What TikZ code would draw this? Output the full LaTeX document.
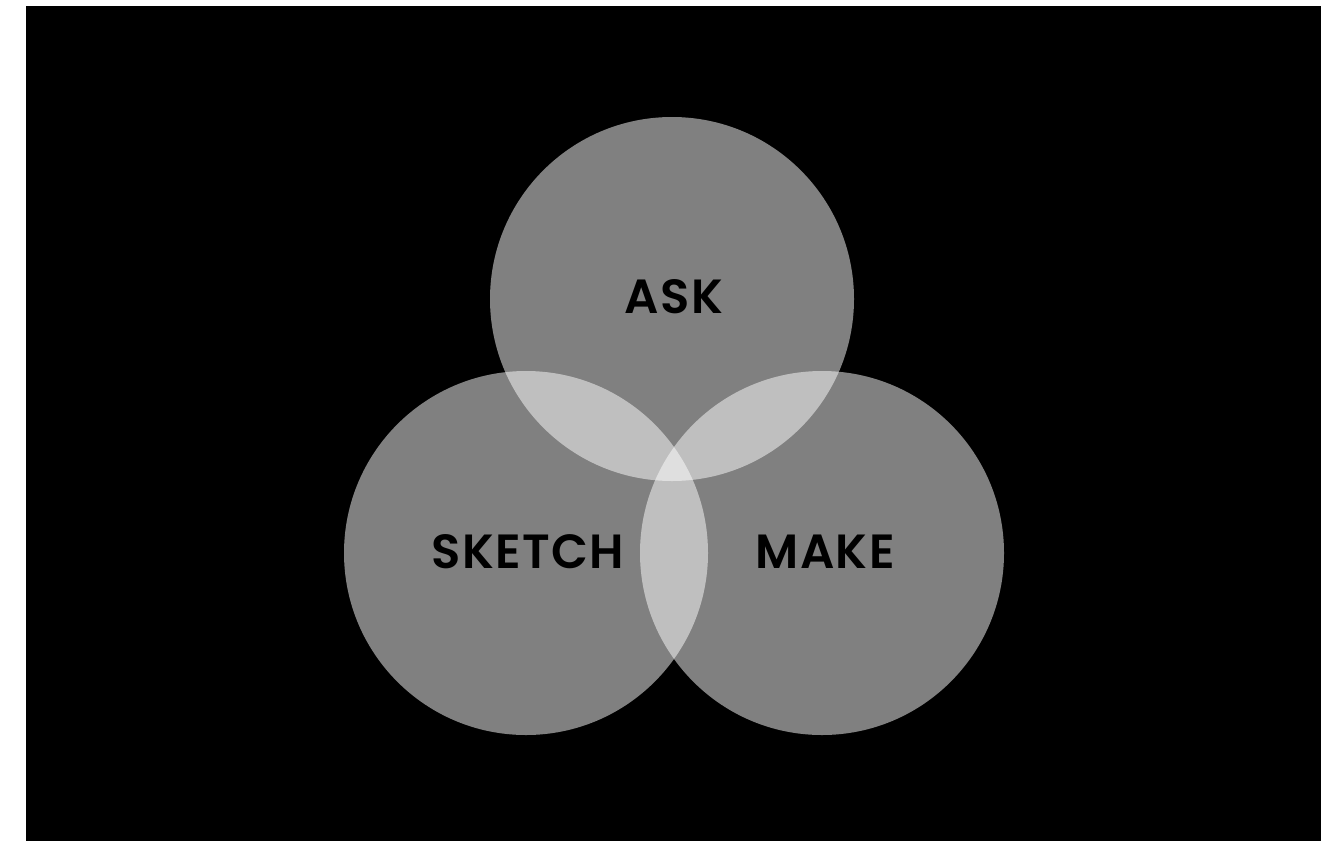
\documentclass[tikz,border=0pt]{standalone}
\usepackage{fontspec}
\newfontfamily\labelfont{Poppins}[UprightFont=* SemiBold, LetterSpace=3]
\tikzset{
  venn/.style={circle, fill=white, fill opacity=0.5, minimum size=364pt, inner sep=0pt, draw=none},
  vlabel/.style={font=\labelfont\fontsize{48}{48}\selectfont, text=black, text opacity=1, inner sep=0pt, anchor=base}
}
\begin{document}
\begin{tikzpicture}[x=1pt,y=-1pt]
\useasboundingbox (0,0) rectangle (1329,841);
\fill[black] (26,6) rectangle (1321,841);
\node[venn] (ask) at (672,299) {};
\node[venn] (sketch) at (526,553) {};
\node[venn] (make) at (822,553) {};
\node[vlabel] (asklbl) at (674,313) {ASK};
\node[vlabel] (sketchlbl) at (528,568) {SKETCH};
\node[vlabel] (makelbl) at (825,568) {MAKE};
\end{tikzpicture}
\end{document}
